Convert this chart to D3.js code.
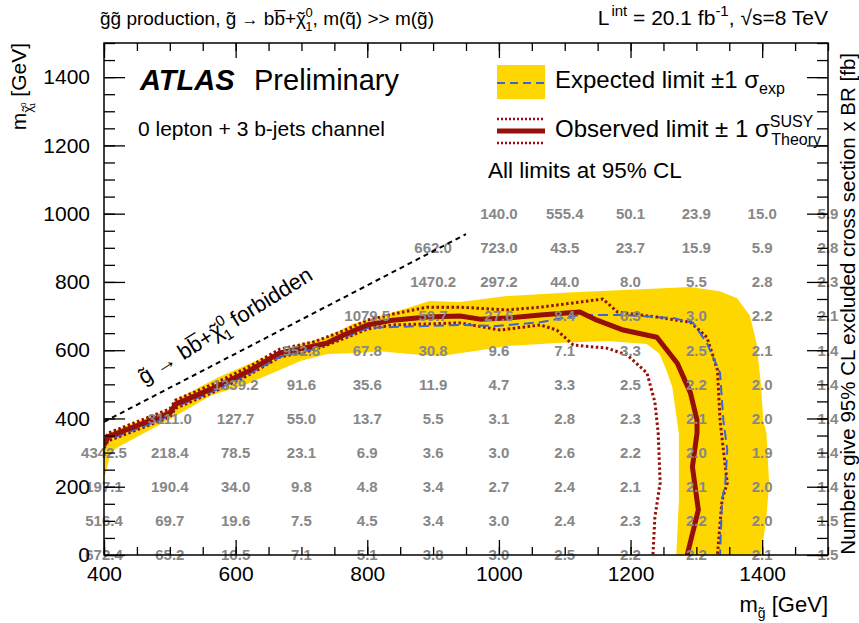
<!DOCTYPE html>
<html>
<head>
<meta charset="utf-8">
<script src="https://cdn.jsdelivr.net/npm/d3@7"></script>
<style>
  body { margin: 0; background: #fff; }
  text { font-family: "Liberation Sans", Arial, Helvetica, sans-serif; }
</style>
</head>
<body>
<div id="chart"></div>
<script>
// gluino mass columns and neutralino mass rows of the cross-section grid
var mGluino = [400, 500, 600, 700, 800, 900, 1000, 1100, 1200, 1300, 1400, 1500];
var mNeutralino = [0, 100, 200, 300, 400, 500, 600, 700, 800, 900, 1000];

// excluded cross section x BR [fb], one row per neutralino mass
var xsecRows = [
  ["672.4", "65.2", "16.5", "7.1", "5.1", "3.8", "3.0", "2.5", "2.2", "2.2", "2.1", "1.5"],
  ["516.4", "69.7", "19.6", "7.5", "4.5", "3.4", "3.0", "2.4", "2.3", "2.2", "2.0", "1.5"],
  ["197.1", "190.4", "34.0", "9.8", "4.8", "3.4", "2.7", "2.4", "2.1", "2.1", "2.0", "1.4"],
  ["4342.5", "218.4", "78.5", "23.1", "6.9", "3.6", "3.0", "2.6", "2.2", "2.0", "1.9", "1.4"],
  [null, "3111.0", "127.7", "55.0", "13.7", "5.5", "3.1", "2.8", "2.3", "2.1", "2.0", "1.4"],
  [null, null, "1339.2", "91.6", "35.6", "11.9", "4.7", "3.3", "2.5", "2.2", "2.0", "1.4"],
  [null, null, null, "952.8", "67.8", "30.8", "9.6", "7.1", "3.3", "2.5", "2.1", "1.4"],
  [null, null, null, null, "1079.5", "59.7", "27.6", "8.4", "6.3", "3.0", "2.2", "2.1"],
  [null, null, null, null, null, "1470.2", "297.2", "44.0", "8.0", "5.5", "2.8", "2.3"],
  [null, null, null, null, null, "662.0", "723.0", "43.5", "23.7", "15.9", "5.9", "2.8"],
  [null, null, null, null, null, null, "140.0", "555.4", "50.1", "23.9", "15.0", "5.9"]
];

// expected +-1 sigma band: outer edge, then inner edge (both left to right)
var bandOuter = [[400,334],[406,354],[500,425],[509,451],[572,516],[637,571],[687,609],[739,636],
  [778,674],[815,694],[865,723],[895,741],[941,738],[1012,756],[1113,767],[1215,776],[1291,782],
  [1335,770],[1361,750],[1380,700],[1390,620],[1397,492],[1400,395],[1405,357],[1409,211],
  [1405,111],[1397,0]];
var bandInner = [[400,234],[409,302],[421,319],[500,401],[561,469],[617,504],[698,571],[739,592],
  [789,595],[819,600],[865,592],[911,586],[961,600],[1012,615],[1088,624],[1164,630],[1225,621],
  [1245,592],[1256,542],[1265,492],[1272,395],[1275,357],[1275,161],[1271,0]];

var expectedLimit = [[400,316],[406,337],[500,407],[509,434],[566,480],[617,527],[667,580],[718,603],
  [763,636],[800,665],[839,668],[891,671],[941,674],[997,671],[1063,682],[1123,703],[1189,703],
  [1265,694],[1295,680],[1316,621],[1336,533],[1341,395],[1347,308],[1344,211],[1339,161],[1336,0]];

var observedLimit = [[400,322],[406,346],[500,416],[509,442],[566,489],[617,536],[667,592],[718,612],
  [739,621],[763,644],[800,674],[839,688],[891,697],[941,700],[971,691],[1012,694],[1063,703],
  [1123,712],[1149,688],[1189,659],[1240,638],[1271,562],[1291,475],[1301,395],[1301,357],
  [1294,258],[1303,132],[1286,0]];

var observedUp = [[400,334],[406,357],[500,428],[509,454],[566,501],[617,548],[667,603],[718,624],
  [763,656],[800,688],[839,706],[891,726],[941,726],[1012,718],[1063,726],[1123,741],[1158,750],
  [1180,712],[1240,697],[1291,682],[1316,638],[1332,542],[1336,395],[1341,308],[1347,211],
  [1339,161],[1332,0]];

var observedDown = [[400,313],[406,334],[500,404],[509,430],[566,477],[617,524],[667,580],[718,600],
  [763,633],[800,662],[839,674],[891,677],[941,680],[1002,659],[1063,674],[1088,659],[1113,615],
  [1164,606],[1195,586],[1225,533],[1237,448],[1242,357],[1245,211],[1237,111],[1234,0]];

// kinematic limit m(neutralino) = m(gluino) - 2 m(b)
var kinLimit = [[400,390],[950,940]];

var xMajor = [400, 600, 800, 1000, 1200, 1400];
var yMajor = [0, 200, 400, 600, 800, 1000, 1200, 1400];

var W = 859, H = 623;
var margin = {top: 43, right: 31, bottom: 68, left: 104};

var svg = d3.select("#chart").append("svg")
  .attr("width", W).attr("height", H);

var x = d3.scaleLinear().domain([400, 1500]).range([margin.left, W - margin.right]);
var y = d3.scaleLinear().domain([0, 1500]).range([H - margin.bottom, margin.top]);

var line = d3.line()
  .x(function (d) { return x(d[0]); })
  .y(function (d) { return y(d[1]); });

svg.append("clipPath").attr("id", "plotclip").append("rect")
  .attr("x", x(400)).attr("y", y(1500))
  .attr("width", x(1500) - x(400)).attr("height", y(0) - y(1500));

var plot = svg.append("g").attr("clip-path", "url(#plotclip)");

// yellow band
plot.append("path")
  .attr("d", line(bandOuter.concat(bandInner.slice().reverse())) + "Z")
  .attr("fill", "#ffd700")
  .attr("stroke", "#ffd700").attr("stroke-width", 2);

var red = "#960f08";
var blue = "#3c64d8";

plot.append("path").attr("d", line(observedDown))
  .attr("fill", "none").attr("stroke", red).attr("stroke-width", 3)
  .attr("stroke-dasharray", "2.5,2.5");
plot.append("path").attr("d", line(observedUp))
  .attr("fill", "none").attr("stroke", red).attr("stroke-width", 3)
  .attr("stroke-dasharray", "2.5,2.5");
plot.append("path").attr("d", line(expectedLimit))
  .attr("fill", "none").attr("stroke", blue).attr("stroke-width", 2)
  .attr("stroke-dasharray", "10,5");
plot.append("path").attr("d", line(observedLimit))
  .attr("fill", "none").attr("stroke", red).attr("stroke-width", 5)
  .attr("stroke-linejoin", "round");

// numbers
var cells = [];
xsecRows.forEach(function (row, i) {
  row.forEach(function (v, j) {
    if (v !== null) cells.push({mx: mGluino[j], my: mNeutralino[i], v: v});
  });
});
svg.append("g").selectAll("text").data(cells).enter().append("text")
  .attr("x", function (d) { return x(d.mx); })
  .attr("y", function (d) { return y(d.my); })
  .attr("dy", "0.36em")
  .attr("text-anchor", "middle")
  .attr("font-size", 15).attr("font-weight", "bold")
  .attr("fill", "#878787")
  .text(function (d) { return d.v; });

// chi-tilde with stacked sub/superscript, then the rest of the text
function chi(t, supSize, shift, rest) {
  t.append("tspan").text("\u03c7");
  t.append("tspan").attr("dx", "-0.42em").text("\u02dc");
  t.append("tspan").attr("font-size", supSize).attr("dx", 1).attr("dy", -shift).text("0");
  t.append("tspan").attr("font-size", supSize).attr("dx", -supSize * 0.56).attr("dy", shift * 1.8).text("1");
  t.append("tspan").attr("dy", -shift * 0.8).text(rest);
}

// kinematic limit
svg.append("path").attr("d", line(kinLimit))
  .attr("fill", "none").attr("stroke", "#000").attr("stroke-width", 2)
  .attr("stroke-dasharray", "5,4");

var kin = svg.append("text")
  .attr("transform", "translate(144,385) rotate(-32)")
  .attr("font-size", 22);
kin.append("tspan").text("g\u0303 \u2192 bb\u0305+");
chi(kin, 15, 9, " forbidden");

// axes
function styleAxis(g) {
  g.select(".domain").remove();
  g.selectAll("line").attr("stroke", "#000").attr("stroke-width", 1.3);
  g.selectAll("text").attr("font-size", 21).attr("fill", "#000")
    .attr("font-family", "Liberation Sans, Arial, sans-serif");
}

svg.append("g").attr("transform", "translate(0," + y(0) + ")")
  .call(d3.axisBottom(x).tickValues(xMajor).tickSize(-15).tickPadding(11).tickFormat(d3.format("d")))
  .call(styleAxis);
svg.append("g").attr("transform", "translate(0," + y(0) + ")")
  .call(d3.axisBottom(x).tickValues(d3.range(400, 1501, 50)).tickSize(-8).tickFormat(""))
  .call(styleAxis);
svg.append("g").attr("transform", "translate(0," + y(1500) + ")")
  .call(d3.axisTop(x).tickValues(xMajor).tickSize(-15).tickFormat(""))
  .call(styleAxis);
svg.append("g").attr("transform", "translate(0," + y(1500) + ")")
  .call(d3.axisTop(x).tickValues(d3.range(400, 1501, 50)).tickSize(-8).tickFormat(""))
  .call(styleAxis);

svg.append("g").attr("transform", "translate(" + x(400) + ",0)")
  .call(d3.axisLeft(y).tickValues(yMajor).tickSize(-21).tickPadding(14).tickFormat(d3.format("d")))
  .call(styleAxis);
svg.append("g").attr("transform", "translate(" + x(400) + ",0)")
  .call(d3.axisLeft(y).tickValues(d3.range(0, 1501, 50)).tickSize(-11).tickFormat(""))
  .call(styleAxis);
svg.append("g").attr("transform", "translate(" + x(1500) + ",0)")
  .call(d3.axisRight(y).tickValues(yMajor).tickSize(-21).tickFormat(""))
  .call(styleAxis);
svg.append("g").attr("transform", "translate(" + x(1500) + ",0)")
  .call(d3.axisRight(y).tickValues(d3.range(0, 1501, 50)).tickSize(-11).tickFormat(""))
  .call(styleAxis);

// frame
svg.append("rect")
  .attr("x", x(400)).attr("y", y(1500))
  .attr("width", x(1500) - x(400)).attr("height", y(0) - y(1500))
  .attr("fill", "none").attr("stroke", "#000").attr("stroke-width", 1.5);

// axis titles
var xt = svg.append("text").attr("x", x(1500)).attr("y", 612)
  .attr("text-anchor", "end").attr("font-size", 22);
xt.append("tspan").text("m");
xt.append("tspan").attr("font-size", 14).attr("dy", 6).text("g\u0303");
xt.append("tspan").attr("dy", -6).text(" [GeV]");

var yt = svg.append("text").attr("transform", "translate(26," + y(1500) + ") rotate(-90)")
  .attr("text-anchor", "end").attr("font-size", 21);
yt.append("tspan").text("m");
yt.append("tspan").attr("font-size", 13).attr("dy", 6).text("\u03c7");
yt.append("tspan").attr("font-size", 13).attr("dx", "-0.42em").text("\u02dc");
yt.append("tspan").attr("font-size", 8).attr("dy", -6).text("0");
yt.append("tspan").attr("font-size", 8).attr("dx", -4.5).attr("dy", 9).text("1");
yt.append("tspan").attr("dy", -9).text(" [GeV]");

svg.append("text").attr("transform", "translate(855," + (y(1500) + 10) + ") rotate(-90)")
  .attr("text-anchor", "end").attr("font-size", 20.5)
  .text("Numbers give 95% CL excluded cross section x BR [fb]");

// top titles
var t1 = svg.append("text").attr("x", 100).attr("y", 25).attr("font-size", 19);
t1.append("tspan").text("g\u0303g\u0303  production, g\u0303 ");
t1.append("tspan").attr("font-size", 17).text("\u2192");
t1.append("tspan").text(" bb\u0305+");
chi(t1, 13, 8, ", m(q\u0303) >> m(g\u0303)");

var t2 = svg.append("text").attr("x", x(1500)).attr("y", 25)
  .attr("text-anchor", "end").attr("font-size", 21);
t2.append("tspan").text("L");
t2.append("tspan").attr("font-size", 15).attr("dx", 2).attr("dy", -9).text("int");
t2.append("tspan").attr("dy", 9).text(" = 20.1 fb");
t2.append("tspan").attr("font-size", 15).attr("dy", -9).text("-1");
t2.append("tspan").attr("dy", 9).text(", \u221as=8 TeV");

// ATLAS label
svg.append("text").attr("x", 140).attr("y", 90).attr("font-size", 29)
  .attr("font-weight", "bold").attr("font-style", "italic").text("ATLAS");
svg.append("text").attr("x", 254).attr("y", 90).attr("font-size", 29)
  .text("Preliminary");
svg.append("text").attr("x", 138).attr("y", 136).attr("font-size", 21)
  .text("0 lepton + 3 b-jets channel");

// legend
var lg = svg.append("g");
lg.append("rect").attr("x", 497).attr("y", 65).attr("width", 48).attr("height", 34)
  .attr("fill", "#ffd700");
lg.append("line").attr("x1", 497).attr("x2", 545).attr("y1", 83).attr("y2", 83)
  .attr("stroke", blue).attr("stroke-width", 2).attr("stroke-dasharray", "8,5");
[119, 143].forEach(function (yy) {
  lg.append("line").attr("x1", 497).attr("x2", 545).attr("y1", yy).attr("y2", yy)
    .attr("stroke", red).attr("stroke-width", 2.5).attr("stroke-dasharray", "2,2");
});
lg.append("line").attr("x1", 497).attr("x2", 545).attr("y1", 131).attr("y2", 131)
  .attr("stroke", red).attr("stroke-width", 5);

var l1 = lg.append("text").attr("x", 555).attr("y", 88).attr("font-size", 24);
l1.append("tspan").text("Expected limit \u00b11 \u03c3");
l1.append("tspan").attr("font-size", 16).attr("dy", 6).text("exp");

var l2 = lg.append("text").attr("x", 555).attr("y", 137).attr("font-size", 24);
l2.append("tspan").text("Observed limit \u00b1 1 \u03c3");
l2.append("tspan").attr("font-size", 16).attr("dy", -10).text("SUSY");
l2.append("tspan").attr("font-size", 16).attr("dx", -42).attr("dy", 18).text("Theory");

lg.append("text").attr("x", 488).attr("y", 178).attr("font-size", 22.5)
  .text("All limits at 95% CL");
</script>
</body>
</html>
